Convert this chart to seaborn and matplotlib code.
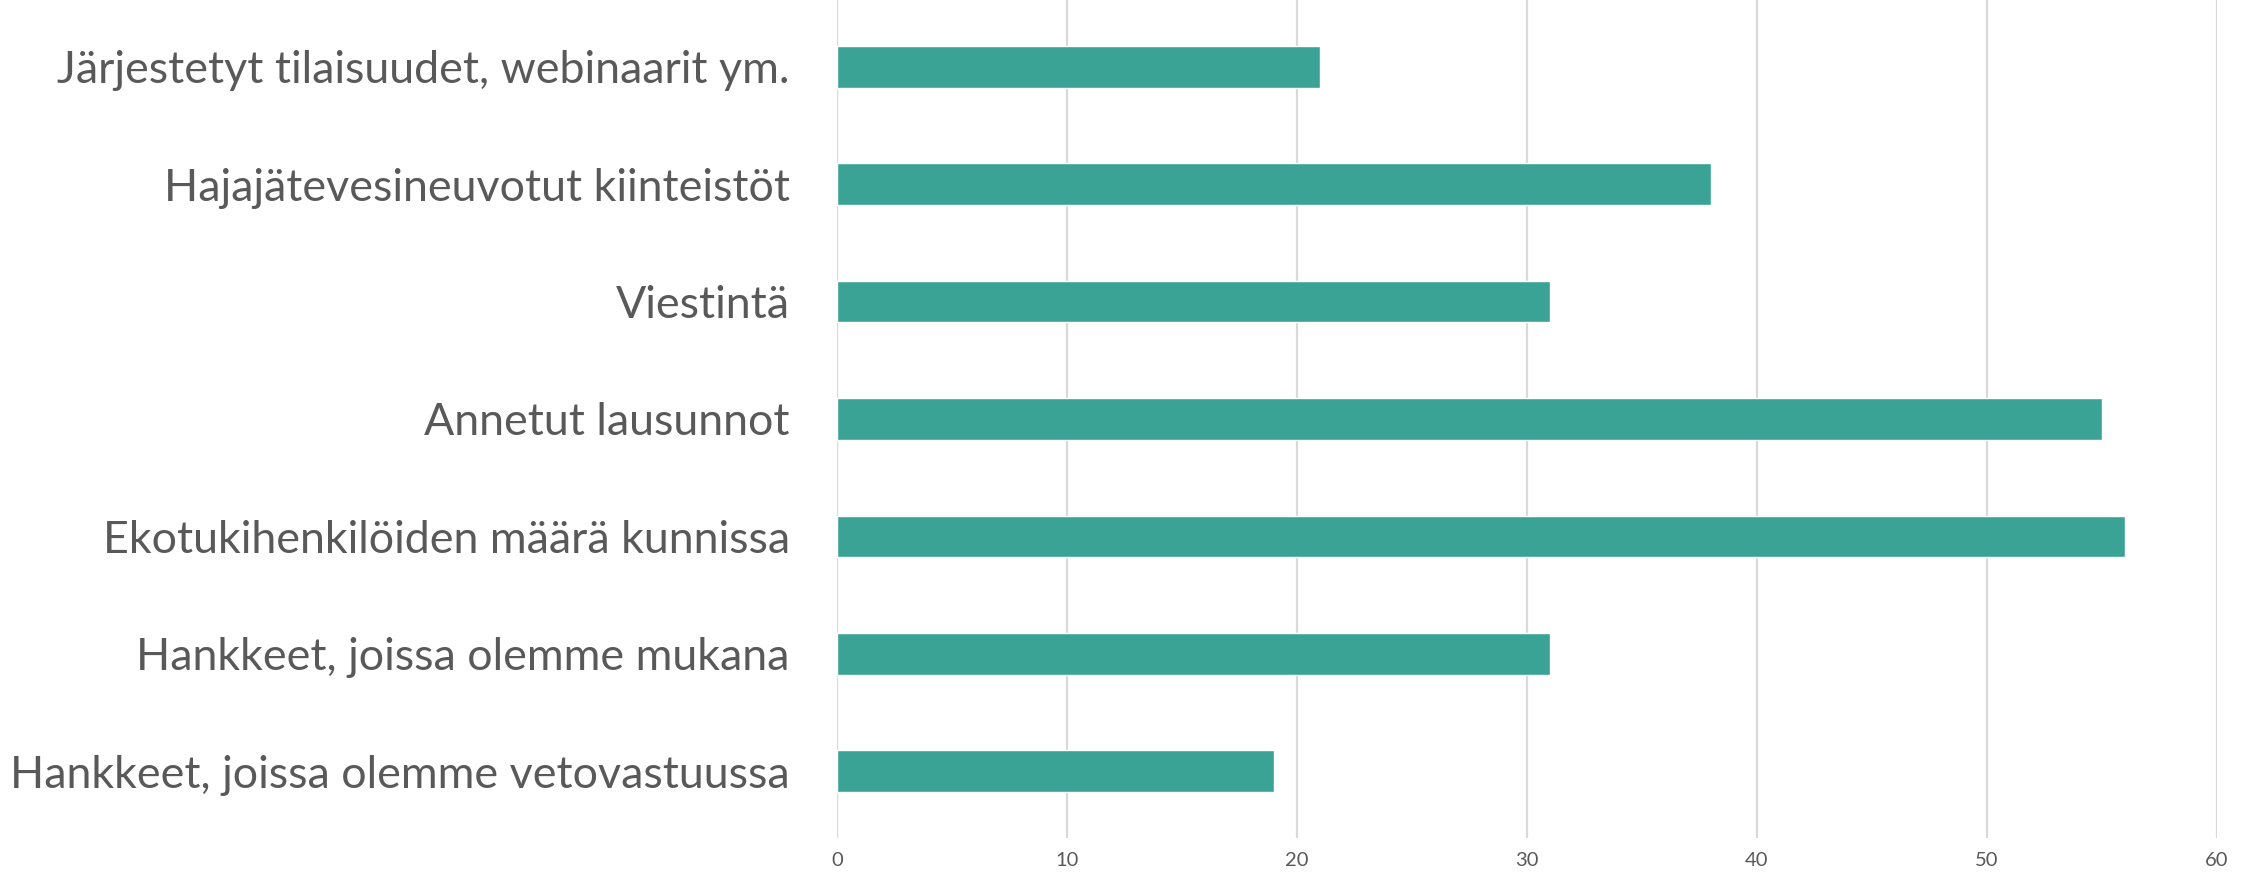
import matplotlib
matplotlib.use("Agg")
import matplotlib.pyplot as plt
import seaborn as sns
import pandas as pd

categories = [
    "Järjestetyt tilaisuudet, webinaarit ym.",
    "Hajajätevesineuvotut kiinteistöt",
    "Viestintä",
    "Annetut lausunnot",
    "Ekotukihenkilöiden määrä kunnissa",
    "Hankkeet, joissa olemme mukana",
    "Hankkeet, joissa olemme vetovastuussa",
]
values = [21, 38, 31, 55, 56, 31, 19]
xticks = [0, 10, 20, 30, 40, 50, 60]

df = pd.DataFrame({"cat": categories, "val": values})

sns.set_theme(style="white")
plt.rcParams["font.family"] = ["Lato", "DejaVu Sans"]

fig = plt.figure(figsize=(22.54, 8.73), dpi=100)
ax = fig.add_axes([837 / 2254, 1 - 838 / 873, (2217 - 837) / 2254, 838 / 873])

sns.barplot(data=df, x="val", y="cat", orient="h", color="#3BA395",
            saturation=1, width=0.355, ax=ax)

ax.set_xlim(0, 60)
ax.set_ylim(6.57, -0.57)
ax.set_xticks(xticks)
ax.set_xticklabels([str(t) for t in xticks])
ax.xaxis.grid(True, color="#D9D9D9", linewidth=1.6)
ax.set_axisbelow(True)
for s in ax.spines.values():
    s.set_visible(False)
ax.set_xlabel("")
ax.set_ylabel("")
ax.tick_params(axis="x", length=0, pad=10, labelsize=14.5, labelcolor="#595959")
ax.tick_params(axis="y", length=0, pad=34, labelsize=32.2, labelcolor="#595959")

fig.savefig("out.png", dpi=100)
